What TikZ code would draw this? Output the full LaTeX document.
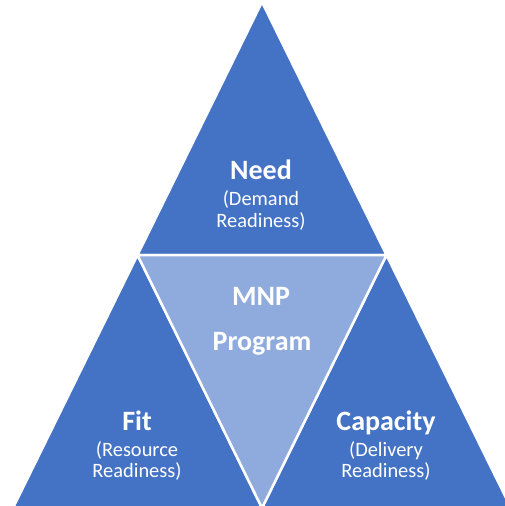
\documentclass[tikz,border=0pt]{standalone}
\usepackage{fontspec}
\setmainfont{Carlito}
\usetikzlibrary{calc}
\begin{document}
\begin{tikzpicture}[x=1pt,y=-1pt,
  outer/.style={fill=darkblue,draw=white,line width=2.5pt,line join=miter},
  inner/.style={fill=lightblue,draw=white,line width=2.5pt,line join=miter},
  headline/.style={anchor=base,text=white,font=\fontsize{28}{32}\selectfont\bfseries,inner sep=0pt},
  subline/.style={anchor=base,text=white,font=\fontsize{20.4}{24}\selectfont,inner sep=0pt}]
\definecolor{darkblue}{HTML}{4472C4}
\definecolor{lightblue}{HTML}{8FAADC}
\useasboundingbox (0,0) rectangle (505,506);
\begin{scope}
\clip (0,0) rectangle (505,506);
% corner points of the large triangle and its edge midpoints
\coordinate (apex) at (262,2);
\coordinate (bl) at (13,508);
\coordinate (br) at (511,508);
\coordinate (ml) at ($(apex)!0.5!(bl)$);
\coordinate (mr) at ($(apex)!0.5!(br)$);
\coordinate (mb) at ($(bl)!0.5!(br)$);
\draw[outer] (apex) -- (ml) -- (mr) -- cycle;
\draw[outer] (ml) -- (bl) -- (mb) -- cycle;
\draw[outer] (mr) -- (mb) -- (br) -- cycle;
\draw[inner] (ml) -- (mr) -- (mb) -- cycle;
\end{scope}
% labels
\node[headline] (need) at (261,179) {Need};
\node[subline] (needa) at (261,205) {(Demand};
\node[subline] (needb) at (261,227) {Readiness)};
\node[headline] (mnp) at (261,305) {MNP};
\node[headline] (prog) at (262,350) {Program};
\node[headline] (fit) at (137,430) {Fit};
\node[subline] (fita) at (137,456) {(Resource};
\node[subline] (fitb) at (137,477) {Readiness)};
\node[headline] (cap) at (386,430) {Capacity};
\node[subline] (capa) at (386,456) {(Delivery};
\node[subline] (capb) at (386,477) {Readiness)};
\end{tikzpicture}
\end{document}
